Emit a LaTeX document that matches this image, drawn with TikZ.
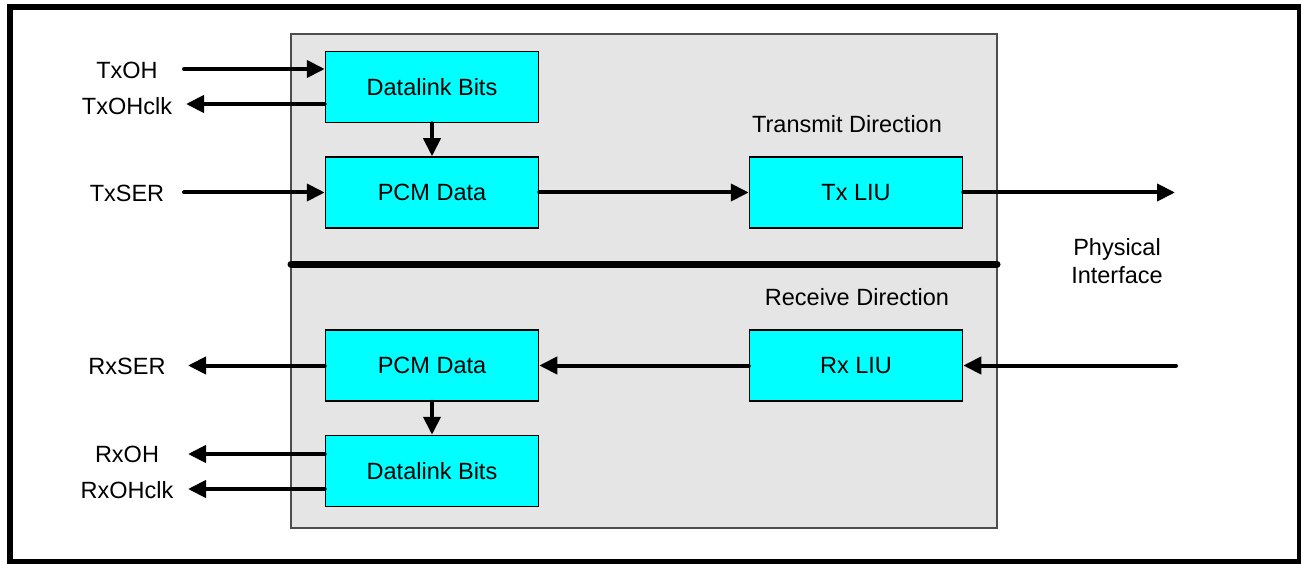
\documentclass[tikz,border=0pt]{standalone}
\usepackage{fontspec}
\setmainfont{Liberation Sans}
\usetikzlibrary{arrows.meta}
\definecolor{chipfill}{HTML}{E5E5E5}
\definecolor{chipline}{HTML}{4D4D4D}
\definecolor{boxcyan}{HTML}{00FFFF}
\begin{document}
\begin{tikzpicture}[x=1pt,y=-1pt,
  every node/.style={font=\fontsize{23.5}{28}\selectfont},
  blk/.style={draw=black, line width=1.5pt, fill=boxcyan, minimum width=213pt, minimum height=71pt, inner sep=0pt},
  lbl/.style={inner sep=0pt, anchor=center},
  arr/.style={line width=4pt, line cap=round, -{Triangle[length=18pt,width=17pt]}},
]
\useasboundingbox (0,0) rectangle (1301,564);
\fill[white] (0,0) rectangle (1301,564);
\draw[line width=5.5pt] (10,7) rectangle (1300,562);

% chip area
\node (chip) [draw=chipline, line width=2pt, fill=chipfill, minimum width=706pt, minimum height=494pt, inner sep=0pt] at (644,281) {};

% blocks
\node[blk] (dl1) at (432,87) {Datalink Bits};
\node[blk] (pcm1) at (432,192.5) {PCM Data};
\node[blk] (txliu) at (856,192.5) {Tx LIU};
\node[blk] (pcm2) at (432,365.5) {PCM Data};
\node[blk] (rxliu) at (856,365.5) {Rx LIU};
\node[blk] (dl2) at (432,471) {Datalink Bits};

% divider
\coordinate (divl) at (291,264);
\coordinate (divr) at (997,264);
\draw[line width=7pt, line cap=round] (divl) -- (divr);

% texts
\node[lbl] (txdir) at (847,124) {Transmit Direction};
\node[lbl] (rxdir) at (857,297) {Receive Direction};
\node[lbl, align=center] (phys) at (1117,261) {Physical\\Interface};

\node[lbl] (txoh) at (127,70) {TxOH};
\node[lbl] (txohclk) at (127,106) {TxOHclk};
\node[lbl] (txser) at (127,193) {TxSER};
\node[lbl] (rxser) at (127,366) {RxSER};
\node[lbl] (rxoh) at (127,454) {RxOH};
\node[lbl] (rxohclk) at (127,490) {RxOHclk};

% connector end points
\coordinate (txoh-s) at (184,69);
\coordinate (txohclk-e) at (186,104);
\coordinate (txser-s) at (184,192.5);
\coordinate (rxser-e) at (188,365.5);
\coordinate (rxoh-e) at (188,454);
\coordinate (rxohclk-e) at (188,489);
\coordinate (phy-out) at (1175,192.5);
\coordinate (phy-in) at (1176,365.5);

% connectors
\draw[arr] (txoh-s) -- (txoh-s -| dl1.west);
\draw[arr] (txohclk-e -| dl1.west) -- (txohclk-e);
\draw[arr] (txser-s) -- (pcm1.west);
\draw[arr] (dl1.south) -- (pcm1.north);
\draw[arr] (pcm1.east) -- (txliu.west);
\draw[arr] (txliu.east) -- (phy-out);
\draw[arr] (phy-in) -- (rxliu.east);
\draw[arr] (rxliu.west) -- (pcm2.east);
\draw[arr] (pcm2.west) -- (rxser-e);
\draw[arr] (pcm2.south) -- (dl2.north);
\draw[arr] (rxoh-e -| dl2.west) -- (rxoh-e);
\draw[arr] (rxohclk-e -| dl2.west) -- (rxohclk-e);
\end{tikzpicture}
\end{document}
